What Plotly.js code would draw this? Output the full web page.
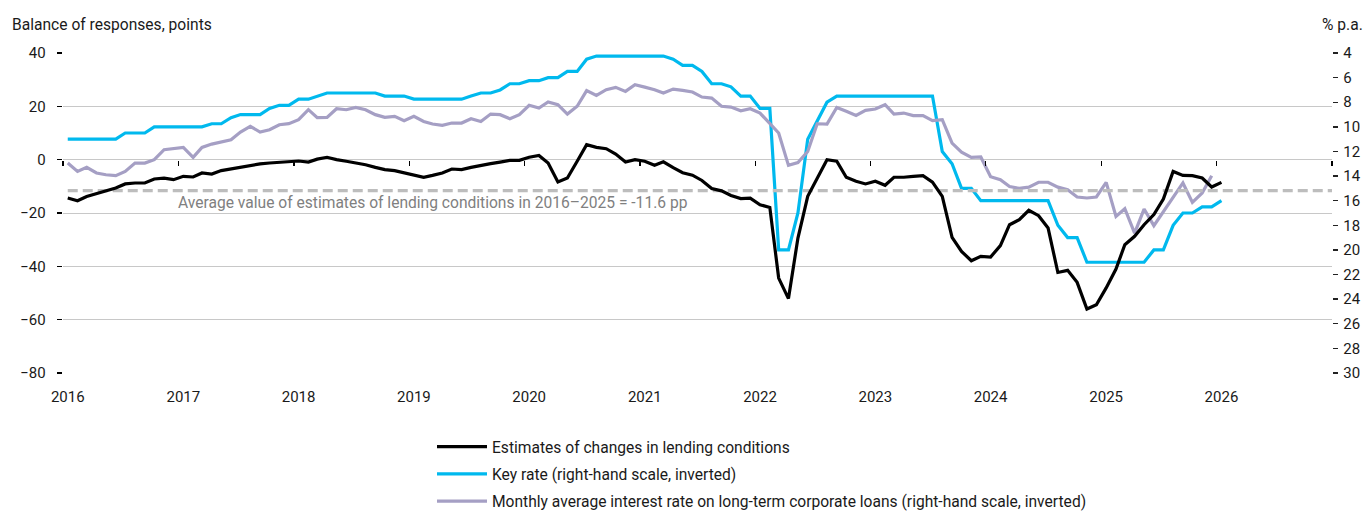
<!DOCTYPE html>
<html>
<head>
<meta charset="utf-8">
<script src="https://cdn.plot.ly/plotly-3.0.1.min.js"></script>
<style>html,body{margin:0;padding:0;background:#fff;}#chart{width:1366px;height:511px;}</style>
</head>
<body>
<div id="chart"></div>
<script>
// ---- data (monthly, Jan 2016 onwards) ----
const startYear = 2016;
const yearLabels = ['2016','2017','2018','2019','2020','2021','2022','2023','2024','2025','2026'];

const lendingConditions = [
 -14.4,-15.4,-13.8,-12.75,-11.6,-10.6,-9.1,-8.75,-8.75,-7.25,-6.9,-7.5,
 -6.25,-6.5,-5.0,-5.4,-4.1,-3.5,-2.9,-2.1,-1.6,-1.25,-0.9,-0.6,
 -0.5,-0.9,0.2,0.9,0.0,-0.6,-1.25,-1.9,-2.9,-3.75,-4.1,-5.0,
 -5.9,-6.6,-5.9,-5.0,-3.5,-3.75,-2.9,-2.1,-1.5,-0.9,-0.25,-0.25,
 0.9,1.6,-1.25,-8.4,-6.9,-0.6,5.6,4.6,4.1,2.1,-0.9,0.0,
 -0.6,-2.1,-0.8,-3.0,-4.9,-5.8,-7.8,-10.8,-11.7,-13.4,-14.6,-14.4,
 -16.9,-17.9,-44.4,-52.1,-29.4,-13.75,-6.9,0.0,-0.6,-6.6,-8.1,-9.1,
 -8.1,-9.6,-6.6,-6.6,-6.25,-6.0,-8.4,-13.75,-29.1,-34.4,-37.9,-36.25,
 -36.5,-32.2,-24.4,-22.5,-19.0,-21.0,-25.6,-42.3,-41.5,-46.0,-56.0,-54.4,
 -48.1,-41.0,-31.9,-28.75,-24.4,-20.6,-14.75,-4.4,-5.9,-6.0,-6.9,-10.25,
 -8.5
];

const keyRate = [
 11,11,11,11,11,11,10.5,10.5,10.5,10,10,10,
 10,10,10,9.75,9.75,9.25,9,9,9,8.5,8.25,8.25,
 7.75,7.75,7.5,7.25,7.25,7.25,7.25,7.25,7.25,7.5,7.5,7.5,
 7.75,7.75,7.75,7.75,7.75,7.75,7.5,7.25,7.25,7,6.5,6.5,
 6.25,6.25,6,6,5.5,5.5,4.5,4.25,4.25,4.25,4.25,4.25,
 4.25,4.25,4.25,4.5,5,5,5.5,6.5,6.5,6.75,7.5,7.5,
 8.5,8.5,20,20,17,11,9.5,8,7.5,7.5,7.5,7.5,
 7.5,7.5,7.5,7.5,7.5,7.5,7.5,12,13,15,15,16,
 16,16,16,16,16,16,16,18,19,19,21,21,
 21,21,21,21,21,20,20,18,17,17,16.5,16.5,
 16
];

const corporateLoanRate = [
 12.94,13.62,13.29,13.75,13.89,13.97,13.62,12.94,12.94,12.67,11.86,11.78,
 11.67,12.48,11.67,11.40,11.26,11.05,10.42,9.96,10.42,10.23,9.83,9.74,
 9.42,8.6,9.25,9.23,8.53,8.61,8.42,8.61,9.01,9.23,9.15,9.5,
 9.15,9.56,9.77,9.88,9.69,9.69,9.34,9.56,8.96,9.01,9.34,9.01,
 8.25,8.47,7.98,8.2,8.96,8.33,7.06,7.44,6.98,6.79,7.12,6.58,
 6.77,6.98,7.25,6.93,7.04,7.17,7.58,7.66,8.33,8.39,8.69,8.53,
 8.88,9.69,10.5,13.13,12.9,12.0,9.75,9.77,8.42,8.74,9.07,8.66,
 8.55,8.2,8.96,8.88,9.09,9.09,9.5,9.42,11.32,12.05,12.48,12.45,
 14.05,14.3,14.85,15.0,14.9,14.5,14.5,14.9,15.1,15.7,15.78,15.7,
 14.51,17.28,16.65,18.63,16.68,18.03,16.87,15.78,14.56,16.14,15.37,13.97
];

const averageLending = -11.6;
const averageText = 'Average value of estimates of lending conditions in 2016\u20132025 = -11.6 pp';

const seriesNames = [
 'Estimates of changes in lending conditions',
 'Key rate (right-hand scale, inverted)',
 'Monthly average interest rate on long-term corporate loans (right-hand scale, inverted)'
];

// ---- helpers ----
function monthDate(i){
  const d = new Date(Date.UTC(startYear, i, 16));
  return d.toISOString().slice(0,10);
}
function dates(n){ const a=[]; for(let i=0;i<n;i++) a.push(monthDate(i)); return a; }

const labelVals = yearLabels.map(y => y + '-01-16');
const yearTicks = yearLabels.map(y => y + '-01-01').concat(['2027-01-01']);
const xRange = ['2016-01-01','2027-01-01'];

const FONT = 'Roboto, "Noto Sans", Arial, sans-serif';
const TXT = 15.6;

const traces = [
 {
   x: [monthDate(0), '2027-01-01'], y: [averageLending, averageLending],
   xaxis: 'x2', yaxis: 'y', mode: 'lines', showlegend: false, hoverinfo: 'skip',
   line: {color: '#bdbdbd', width: 3.3, dash: '10px,5px'}
 },
 {
   x: dates(lendingConditions.length), y: lendingConditions, name: seriesNames[0], legendgroup: 'a', legendrank: 1,
   xaxis: 'x', yaxis: 'y', mode: 'lines', zorder: 5,
   line: {color: '#000000', width: 3.2}
 },
 {
   x: dates(keyRate.length), y: keyRate, name: seriesNames[1], legendgroup: 'b', legendrank: 2,
   xaxis: 'x', yaxis: 'y2', mode: 'lines',
   line: {color: '#00b9ee', width: 3.2}
 },
 {
   x: dates(corporateLoanRate.length), y: corporateLoanRate, name: seriesNames[2], legendgroup: 'c', legendrank: 3,
   xaxis: 'x', yaxis: 'y2', mode: 'lines',
   line: {color: '#a59fc4', width: 3.2}
 }
];

const layout = {
  width: 1366, height: 511, autosize: false,
  margin: {l: 63, r: 34, t: 53, b: 138, pad: 0, autoexpand: false},
  paper_bgcolor: '#fff', plot_bgcolor: '#fff',
  font: {family: FONT, size: 15, color: '#1a1a1a'},
  showlegend: true,
  legend: {
    x: (432 - 63) / 1269, xanchor: 'left',
    yref: 'container', y: 1 - 430 / 511, yanchor: 'top',
    orientation: 'v', traceorder: 'grouped', tracegroupgap: 4,
    font: {family: FONT, size: TXT, color: '#1a1a1a'},
    bgcolor: 'rgba(0,0,0,0)', itemwidth: 50
  },
  xaxis: {
    type: 'date', range: xRange, tickmode: 'array', tickvals: labelVals, ticktext: yearLabels,
    ticks: '', showgrid: false, showline: false, zeroline: false,
    tickfont: {family: FONT, size: 15, color: '#1a1a1a'}, ticklabelstandoff: 13
  },
  xaxis2: {
    type: 'date', range: xRange, overlaying: 'x', anchor: 'free', position: 2/3,
    tickmode: 'array', tickvals: yearTicks, ticks: 'outside', ticklen: 5, tickwidth: 1.3, tickcolor: '#000',
    showline: true, linecolor: '#000', linewidth: 1.3, showticklabels: false,
    showgrid: false, zeroline: false
  },
  yaxis: {
    range: [-80, 40], tickmode: 'array', tickvals: [-80,-60,-40,-20,0,20,40],
    ticks: 'outside', ticklen: 5, tickwidth: 1.3, tickcolor: '#000',
    showline: true, linecolor: '#000', linewidth: 1.3,
    showgrid: true, gridcolor: '#c8c8c8', gridwidth: 1, zeroline: false,
    tickfont: {family: FONT, size: 15, color: '#1a1a1a'}, ticklabelstandoff: 8
  },
  yaxis2: {
    range: [30, 4], overlaying: 'y', side: 'right', anchor: 'x',
    tickmode: 'array', tickvals: [4,6,8,10,12,14,16,18,20,22,24,26,28,30],
    ticks: 'outside', ticklen: 5, tickwidth: 1.3, tickcolor: '#222',
    showline: true, linecolor: '#222', linewidth: 1.3,
    showgrid: false, zeroline: false,
    tickfont: {family: FONT, size: 15, color: '#1a1a1a'}, ticklabelstandoff: 2
  },
  annotations: [
    {text: 'Balance of responses, points', xref: 'paper', yref: 'paper',
     x: (10 - 63) / 1269, y: (373.3 - 25) / 320, xanchor: 'left', yanchor: 'middle',
     showarrow: false, font: {family: FONT, size: TXT, color: '#1a1a1a'}},
    {text: '% p.a.', xref: 'paper', yref: 'paper',
     x: (1365 - 63) / 1269, y: (373.3 - 25) / 320, xanchor: 'right', yanchor: 'middle',
     showarrow: false, font: {family: FONT, size: TXT, color: '#1a1a1a'}},
    {text: averageText, xref: 'paper', yref: 'y',
     x: (176 - 63) / 1269, y: -16.4, xanchor: 'left', yanchor: 'middle',
     showarrow: false, font: {family: FONT, size: TXT, color: '#808080'}}
  ]
};

Plotly.newPlot('chart', traces, layout, {displayModeBar: false, staticPlot: true});
</script>
</body>
</html>
